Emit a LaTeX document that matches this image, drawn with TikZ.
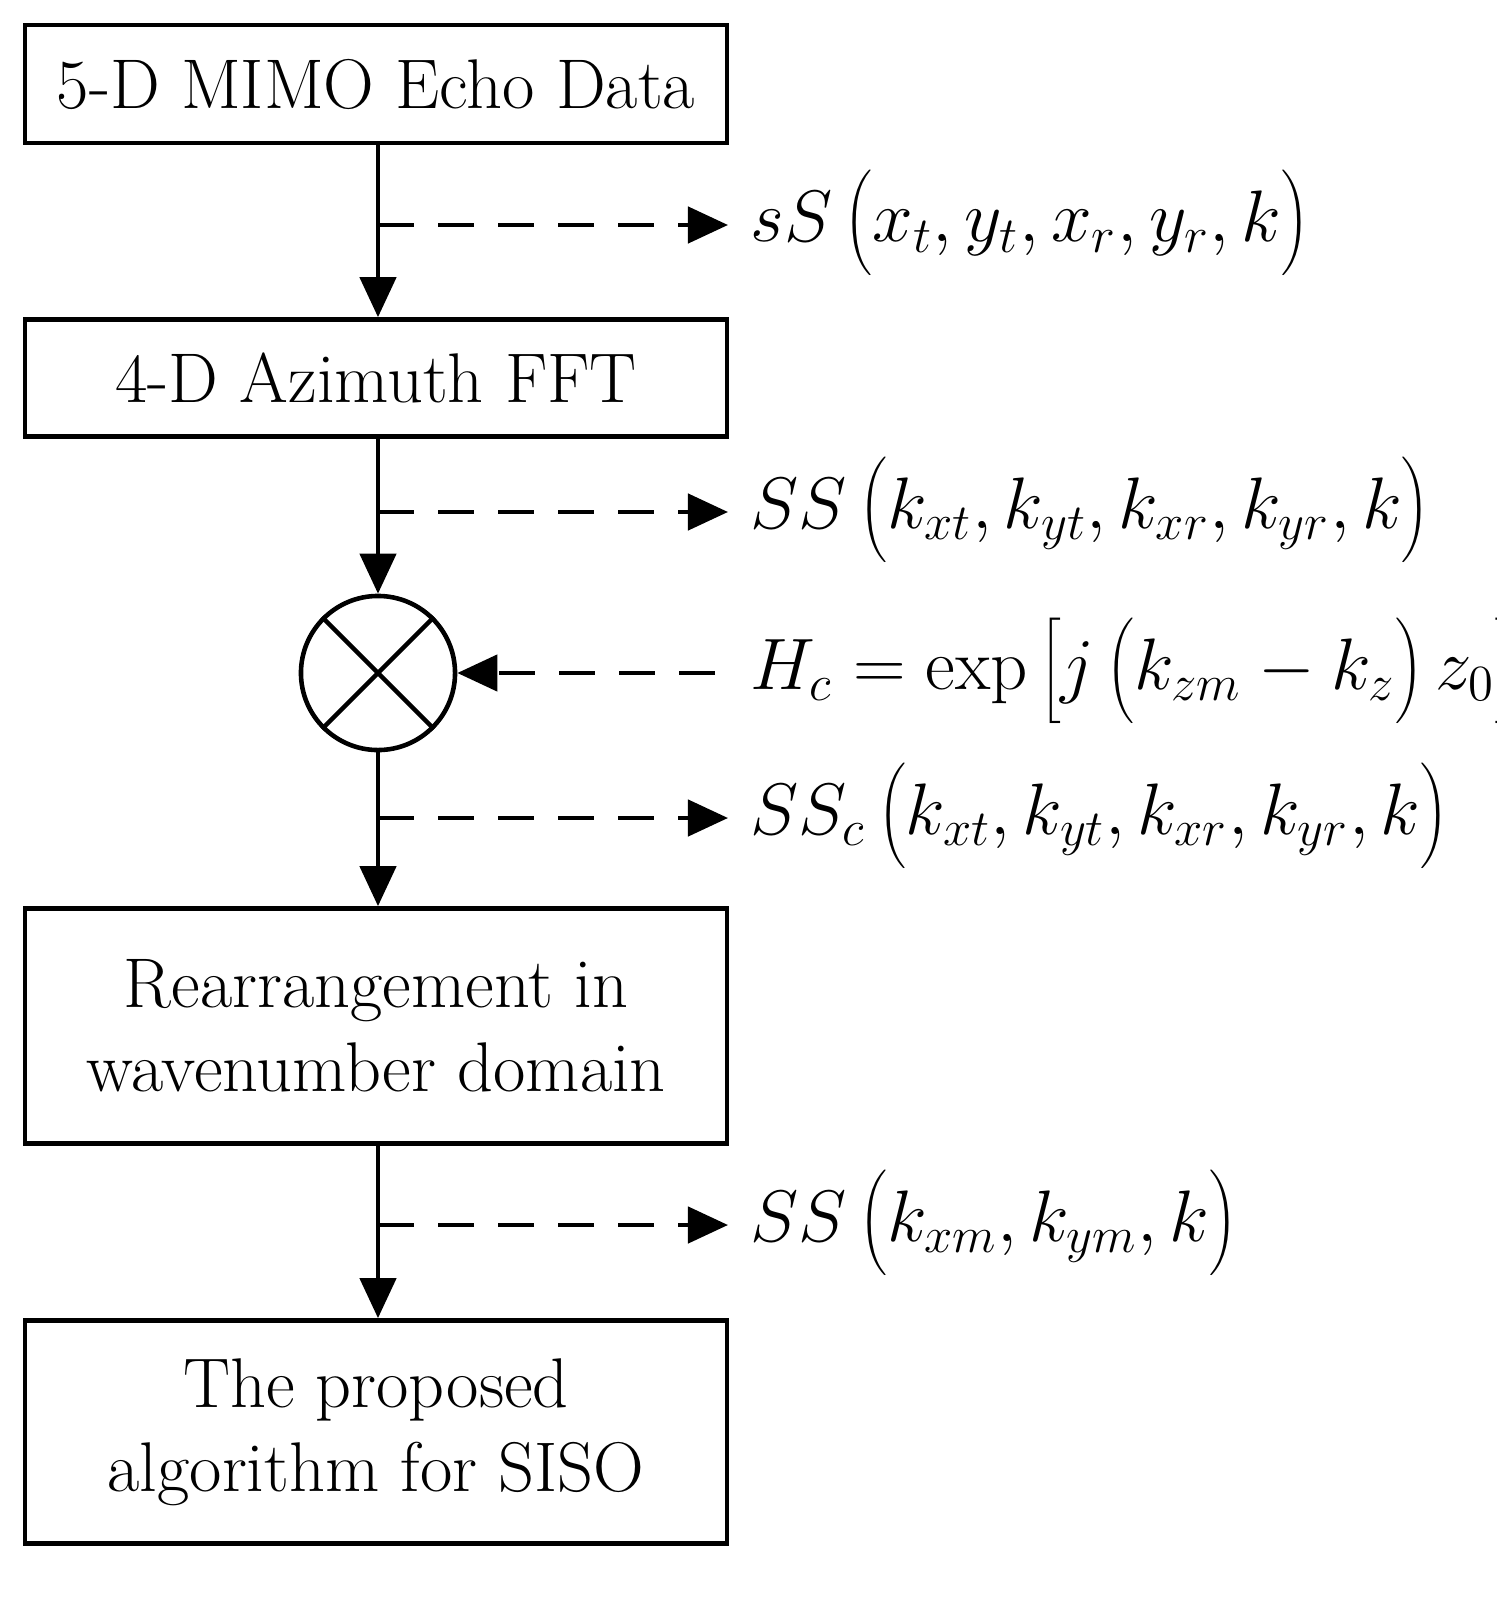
\documentclass[tikz,border=0pt]{standalone}
\usetikzlibrary{arrows.meta}
\newcommand{\tallstrut}{\vrule height 0.95em depth 0.55em width 0pt}
\newcommand{\lp}{\left(\tallstrut}
\newcommand{\rp}{\right)}
\begin{document}
\begin{tikzpicture}[x=0.01cm,y=-0.01cm,
  box/.style={draw,line width=1.3pt,minimum width=7.02cm,inner sep=0pt,align=center,font=\fontsize{20}{24}\selectfont},
  flow/.style={line width=1.3pt,-{Triangle[length=4mm,width=3.6mm]}},
  dsh/.style={line width=1.3pt,dash pattern=on 3.6mm off 2.4mm,-{Triangle[length=4mm,width=3.6mm]}},
  lab/.style={anchor=west,inner sep=0pt,font=\fontsize{20}{24}\selectfont}]
\useasboundingbox (0,0) rectangle (1496,1618);
\node[box,minimum height=1.18cm] (b1) at (376,84) {5-D MIMO Echo Data};
\node[box,minimum height=1.17cm] (b2) at (376,378) {4-D Azimuth FFT};
\node[draw,circle,line width=1.3pt,minimum size=1.54cm,inner sep=0pt] (m) at (378,673) {};
\draw[line width=1.3pt] (m.45)--(m.225) (m.135)--(m.315);
\node[box,minimum height=2.35cm] (b3) at (376,1026) {Rearrangement in\\wavenumber domain};
\node[box,minimum height=2.23cm] (b4) at (376,1432) {The proposed\\algorithm for SISO};
\draw[flow] (b1.south -| 378,0) -- (b2.north -| 378,0);
\draw[flow] (b2.south -| 378,0) -- (m.north);
\draw[flow] (m.south) -- (b3.north -| 378,0);
\draw[flow] (b3.south -| 378,0) -- (b4.north -| 378,0);
\coordinate (d1) at (378,225); \coordinate (e1) at (728,225);
\coordinate (d2) at (378,512); \coordinate (e2) at (728,512);
\coordinate (d3) at (378,818); \coordinate (e3) at (728,818);
\coordinate (d4) at (378,1225); \coordinate (e4) at (728,1225);
\coordinate (h) at (715,673);
\draw[dsh] (d1)--(e1); \draw[dsh] (d2)--(e2); \draw[dsh] (d3)--(e3); \draw[dsh] (d4)--(e4);
\draw[dsh] (h)--(m.east);
\node[lab] (l1) at (750,225) {$sS\lp x_t,y_t,x_r,y_r,k\rp$};
\node[lab] (l2) at (750,512) {$SS\lp k_{xt},k_{yt},k_{xr},k_{yr},k\rp$};
\node[lab] (l3) at (750,673) {$H_c=\exp\left[\tallstrut j\lp k_{zm}-k_z\rp z_0\right]$};
\node[lab] (l4) at (750,818) {$SS_c\lp k_{xt},k_{yt},k_{xr},k_{yr},k\rp$};
\node[lab] (l5) at (750,1225) {$SS\lp k_{xm},k_{ym},k\rp$};
\end{tikzpicture}
\end{document}
